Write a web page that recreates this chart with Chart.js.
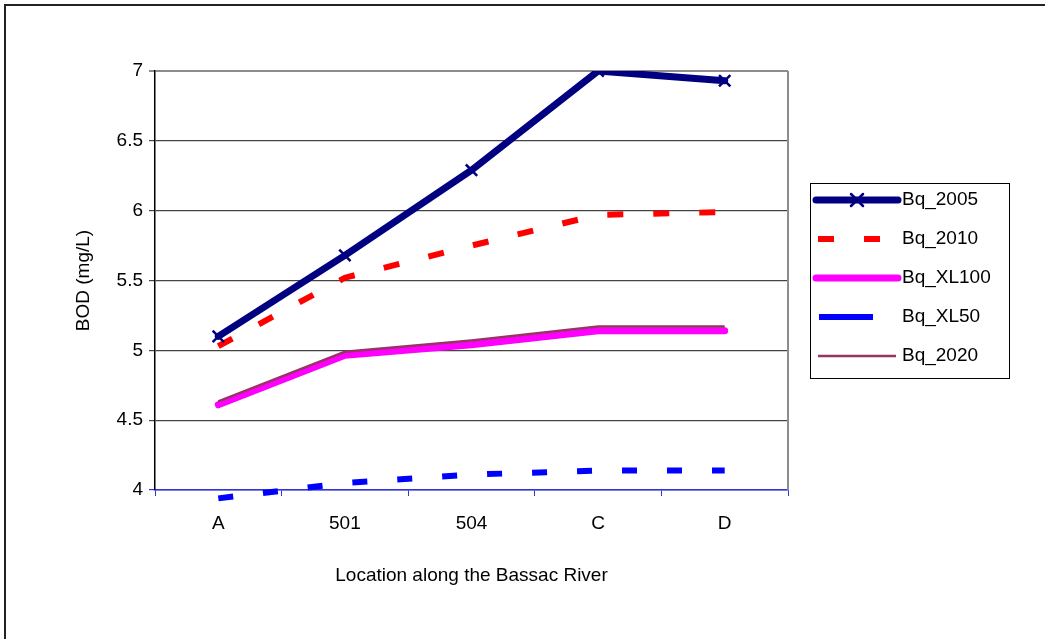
<!DOCTYPE html>
<html>
<head>
<meta charset="utf-8">
<script src="https://cdn.jsdelivr.net/npm/chart.js@4/dist/chart.umd.min.js"></script>
<style>
  body { margin: 0; background: #fff; }
  canvas { display: block; }
</style>
</head>
<body>
<canvas id="chart" width="1045" height="639"></canvas>
<script>
// data
var locations = ['A', '501', '504', 'C', 'D'];
var bq2005 = [5.10, 5.68, 6.29, 7.00, 6.93];
var bq2010 = [5.03, 5.52, 5.75, 5.97, 5.99];
var bqXL100 = [4.61, 4.965, 5.04, 5.14, 5.14];
var bqXL50 = [3.94, 4.05, 4.11, 4.14, 4.14];
var bq2020 = [4.635, 4.99, 5.07, 5.17, 5.17];

var FONT = '"Liberation Sans", Arial, sans-serif';
var AXIS_BLUE = '#3333dd';

// frame, plot border and the boxed legend on the right
var decor = {
    id: 'decor',
    beforeDraw: function(chart) {
        var ctx = chart.ctx;
        ctx.save();
        ctx.fillStyle = '#fff';
        ctx.fillRect(0, 0, chart.width, chart.height);
        ctx.strokeStyle = '#222';
        ctx.lineWidth = 2;
        ctx.strokeRect(5, 5, 1100, 700);
        ctx.restore();
    },
    beforeDatasetsDraw: function(chart) {
        var a = chart.chartArea;
        var ctx = chart.ctx;
        ctx.save();
        ctx.strokeStyle = '#8c8c8c';
        ctx.lineWidth = 2;
        ctx.beginPath();
        ctx.moveTo(a.right, a.top);
        ctx.lineTo(a.right, a.bottom);
        ctx.stroke();
        ctx.restore();
    },
    afterDraw: function(chart) {
        var ctx = chart.ctx;
        ctx.save();
        ctx.strokeStyle = '#000';
        ctx.lineWidth = 1;
        ctx.strokeRect(810.5, 183.5, 199, 195);
        ctx.font = '19px ' + FONT;
        ctx.textBaseline = 'middle';
        ctx.fillStyle = '#000';
        chart.data.datasets.forEach(function(ds, i) {
            var y = 200 + i * 39;
            ctx.strokeStyle = ds.borderColor;
            ctx.lineWidth = ds.borderWidth;
            ctx.lineCap = ds.borderCapStyle || 'butt';
            ctx.setLineDash(ds.legendDash || []);
            ctx.beginPath();
            ctx.moveTo(ds.legendFrom, y);
            ctx.lineTo(ds.legendTo, y);
            ctx.stroke();
            ctx.setLineDash([]);
            if (ds.pointRadius > 0) {
                var r = ds.pointRadius * 0.75;
                var mx = (ds.legendFrom + ds.legendTo) / 2;
                ctx.lineWidth = ds.pointBorderWidth;
                ctx.beginPath();
                ctx.moveTo(mx - r, y - r); ctx.lineTo(mx + r, y + r);
                ctx.moveTo(mx - r, y + r); ctx.lineTo(mx + r, y - r);
                ctx.stroke();
            }
            ctx.fillText(ds.label, 902, y);
        });
        ctx.restore();
    }
};

new Chart(document.getElementById('chart').getContext('2d'), {
    type: 'line',
    data: {
        labels: locations,
        datasets: [{
            label: 'Bq_2005',
            data: bq2005,
            borderColor: '#000080',
            borderWidth: 7,
            borderCapStyle: 'round',
            pointStyle: 'crossRot',
            pointRadius: 8,
            pointBorderWidth: 2.5,
            pointBorderColor: '#000080',
            legendFrom: 816, legendTo: 898
        }, {
            label: 'Bq_2010',
            data: bq2010,
            borderColor: '#ff0000',
            borderWidth: 6,
            borderDash: [16, 30],
            pointRadius: 0,
            legendFrom: 818, legendTo: 880, legendDash: [16, 30]
        }, {
            label: 'Bq_XL100',
            data: bqXL100,
            borderColor: '#ff00ff',
            borderWidth: 7,
            borderCapStyle: 'round',
            pointRadius: 0,
            legendFrom: 816, legendTo: 898
        }, {
            label: 'Bq_XL50',
            data: bqXL50,
            borderColor: '#0000ff',
            borderWidth: 6,
            borderDash: [15, 30],
            pointRadius: 0,
            clip: false,
            legendFrom: 819, legendTo: 873
        }, {
            label: 'Bq_2020',
            data: bq2020,
            order: -1,
            borderColor: '#993366',
            borderWidth: 2.5,
            pointRadius: 0,
            legendFrom: 818, legendTo: 896
        }]
    },
    options: {
        responsive: false,
        animation: false,
        layout: { padding: { left: 68, top: 71, right: 257, bottom: 52 } },
        plugins: {
            legend: { display: false },
            tooltip: { enabled: false }
        },
        scales: {
            x: {
                offset: true,
                afterFit: function(scale) { scale.height = 97; },
                grid: {
                    offset: true,
                    drawOnChartArea: false,
                    color: AXIS_BLUE,
                    tickLength: 6
                },
                border: { color: AXIS_BLUE, width: 1.5 },
                ticks: {
                    color: '#000',
                    padding: 16,
                    maxRotation: 0,
                    font: { family: FONT, size: 19 }
                },
                title: {
                    display: true,
                    text: 'Location along the Bassac River',
                    color: '#000',
                    padding: 0,
                    font: { family: FONT, size: 19 }
                }
            },
            y: {
                min: 4,
                max: 7,
                afterFit: function(scale) { scale.width = 87; },
                grid: {
                    tickLength: 6,
                    color: function(c) {
                        if (c.tick.value === 7) return '#8c8c8c';
                        if (c.tick.value === 4) return AXIS_BLUE;
                        return '#444';
                    },
                    lineWidth: function(c) { return c.tick.value === 7 ? 2 : 1.2; }
                },
                border: { color: '#000', width: 1.5 },
                ticks: {
                    stepSize: 0.5,
                    color: '#000',
                    padding: 6,
                    font: { family: FONT, size: 19 },
                    callback: function(v) { return String(v); }
                },
                title: {
                    display: true,
                    text: 'BOD (mg/L)',
                    color: '#000',
                    padding: 4,
                    font: { family: FONT, size: 19 }
                }
            }
        }
    },
    plugins: [decor]
});
</script>
</body>
</html>
